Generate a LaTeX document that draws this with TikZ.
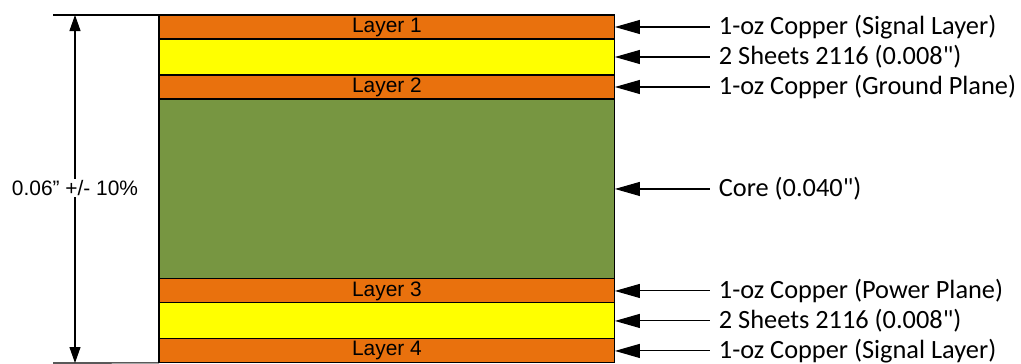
\documentclass[tikz,border=0pt]{standalone}
\usepackage{fontspec}
\setmainfont{Liberation Sans}
\newfontfamily\calib{Carlito}
\usepackage{xcolor}
\usepackage{tikz}
\usetikzlibrary{positioning, arrows.meta}
\definecolor{copper}{RGB}{233,113,13}
\definecolor{prepreg}{RGB}{255,255,0}
\definecolor{corecol}{RGB}{119,150,65}

\begin{document}
\begin{tikzpicture}[x=0.02cm, y=-0.02cm, line width=0.6pt]
\tikzstyle{layer}=[rectangle,draw,inner sep=0pt,outer sep=0pt,minimum width=9.12cm,
  font=\fontsize{11.9}{14}\selectfont]
\tikzstyle{lbl}=[inner xsep=0.18cm,inner ysep=0pt,outer sep=0pt,anchor=west,
  font=\calib\fontsize{15}{18}\selectfont]
\useasboundingbox (0,0) rectangle (1021,363);
% board stack
\node[layer,fill=copper,minimum height=0.48cm,anchor=north west] (l1) at (159,15) {Layer 1};
\node[layer,fill=prepreg,minimum height=0.72cm] (pp1) [below=0pt of l1] {};
\node[layer,fill=copper,minimum height=0.48cm] (l2) [below=0pt of pp1] {Layer 2};
\node[layer,fill=corecol,minimum height=3.6cm] (core) [below=0pt of l2] {};
\node[layer,fill=copper,minimum height=0.48cm] (l3) [below=0pt of core] {Layer 3};
\node[layer,fill=prepreg,minimum height=0.72cm] (pp2) [below=0pt of l3] {};
\node[layer,fill=copper,minimum height=0.48cm] (l4) [below=0pt of pp2] {Layer 4};
% labels
\node[lbl] (t1) [right=1.9cm of l1] {1-oz Copper (Signal Layer)};
\node[lbl] (t2) [right=1.9cm of pp1] {2 Sheets 2116 (0.008")};
\node[lbl] (t3) [right=1.9cm of l2] {1-oz Copper (Ground Plane)};
\node[lbl] (t4) [right=1.9cm of core] {Core (0.040")};
\node[lbl] (t5) [right=1.9cm of l3] {1-oz Copper (Power Plane)};
\node[lbl] (t6) [right=1.9cm of pp2] {2 Sheets 2116 (0.008")};
\node[lbl] (t7) [right=1.9cm of l4] {1-oz Copper (Signal Layer)};
\path[-{Triangle[length=0.5cm,width=0.28cm]}]
(t1) edge (l1)
(t2) edge (pp1)
(t3) edge (l2)
(t4) edge (core)
(t5) edge (l3)
(t6) edge (pp2)
(t7) edge (l4)
;
% thickness
\coordinate (ext1) at (53,15);
\coordinate (ext2) at (53,363);
\coordinate (dtop) at (75,15);
\coordinate (dbot) at (75,363);
\draw (ext1) -- (l1.north west);
\draw (ext2) -- (l4.south west);
\draw[{Triangle[length=0.32cm,width=0.22cm]}-{Triangle[length=0.32cm,width=0.22cm]}] (dtop) -- (dbot);
\node[fill=white,inner sep=1pt,font=\fontsize{11.9}{14}\selectfont] (thick) at (75,188) {0.06" +/- 10\%};
\end{tikzpicture}
\end{document}
